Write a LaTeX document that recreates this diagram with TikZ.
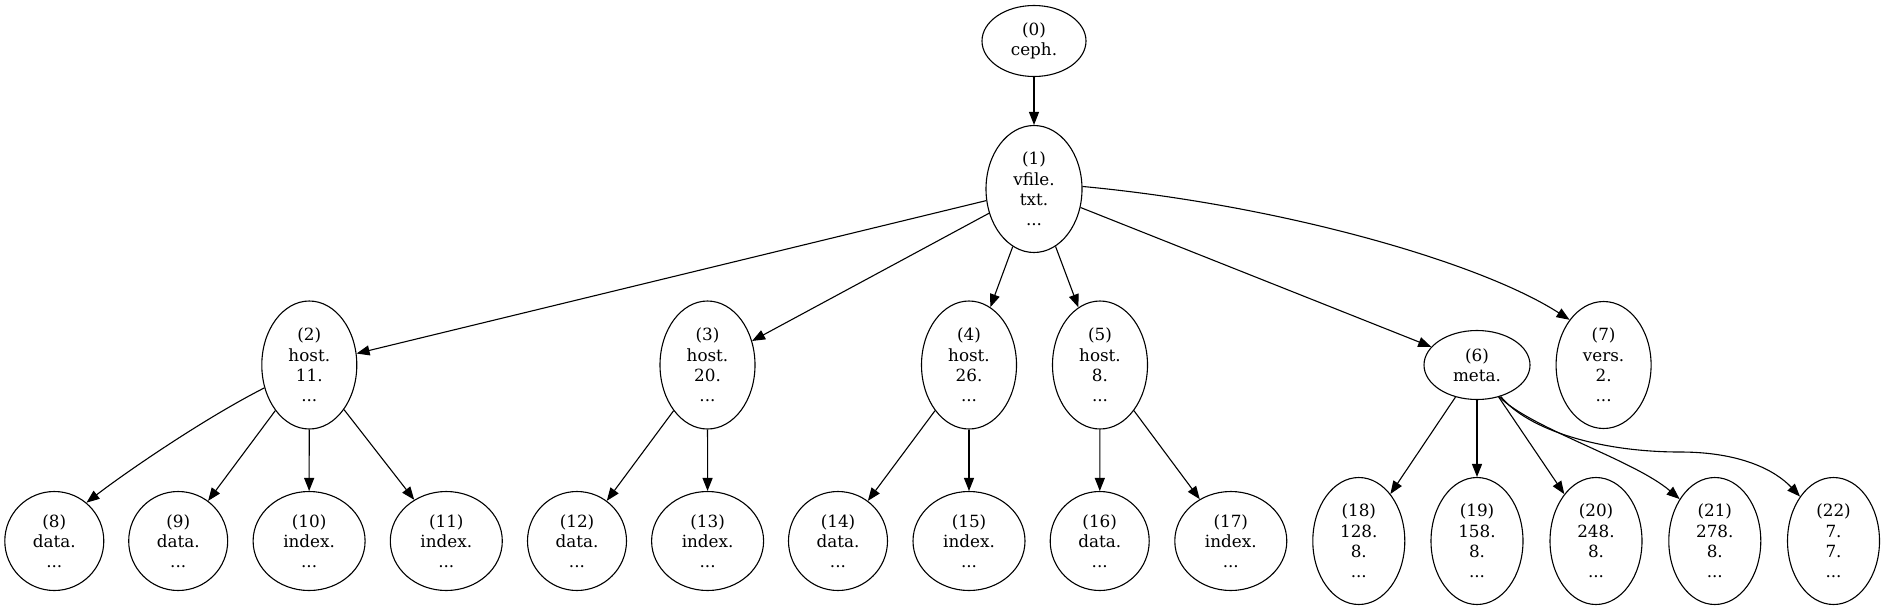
\documentclass[tikz,border=0pt]{standalone}
\usepackage{fontspec}
\setmainfont{DejaVu Serif}
\usetikzlibrary{arrows.meta,shapes.geometric}
\begin{document}
\begin{tikzpicture}[x=1pt,y=-1pt,
  nd/.style={draw,ellipse,line width=1.1pt,inner sep=0pt,align=center,
    font=\fontsize{16.8}{20.2}\selectfont},
  topnd/.style={nd,minimum width=104pt,minimum height=71pt},
  filend/.style={nd,minimum width=96pt,minimum height=127pt},
  hostnd/.style={nd,minimum width=95pt,minimum height=128pt},
  metand/.style={nd,minimum width=106pt,minimum height=69pt},
  versnd/.style={nd,minimum width=95pt,minimum height=127pt},
  datand/.style={nd,minimum width=99pt,minimum height=99pt},
  indexnd/.style={nd,minimum width=112pt,minimum height=99pt},
  numnd/.style={nd,minimum width=92pt,minimum height=127pt},
  ed/.style={line width=1.1pt,-{Triangle[length=13pt,width=10pt]}}
]
\fill[white] (0,0) rectangle (1885,611);
\useasboundingbox (0,0) rectangle (1885,611);

\node[topnd] (n0) at (1034,41) {(0)\\ceph.};
\node[filend] (n1) at (1034,189) {(1)\\vfile.\\txt.\\...};
\node[hostnd] (n2) at (309.3,365) {(2)\\host.\\11.\\...};
\node[hostnd] (n3) at (707.5,365) {(3)\\host.\\20.\\...};
\node[hostnd] (n4) at (969,365) {(4)\\host.\\26.\\...};
\node[hostnd] (n5) at (1100,365) {(5)\\host.\\8.\\...};
\node[metand] (n6) at (1477,365) {(6)\\meta.};
\node[versnd] (n7) at (1603.6,365) {(7)\\vers.\\2.\\...};

\node[datand] (n8) at (54.3,541) {(8)\\data.\\...};
\node[datand] (n9) at (178.2,541) {(9)\\data.\\...};
\node[indexnd] (n10) at (309.1,541) {(10)\\index.\\...};
\node[indexnd] (n11) at (446.3,541) {(11)\\index.\\...};
\node[datand] (n12) at (577,541) {(12)\\data.\\...};
\node[indexnd] (n13) at (707.6,541) {(13)\\index.\\...};
\node[datand] (n14) at (838,541) {(14)\\data.\\...};
\node[indexnd] (n15) at (969,541) {(15)\\index.\\...};
\node[datand] (n16) at (1099.7,541) {(16)\\data.\\...};
\node[indexnd] (n17) at (1230.8,541) {(17)\\index.\\...};
\node[numnd] (n18) at (1358.8,541) {(18)\\128.\\8.\\...};
\node[numnd] (n19) at (1477,541) {(19)\\158.\\8.\\...};
\node[numnd] (n20) at (1596,541) {(20)\\248.\\8.\\...};
\node[numnd] (n21) at (1714.8,541) {(21)\\278.\\8.\\...};
\node[numnd] (n22) at (1833.5,541) {(22)\\7.\\7.\\...};

\draw[ed] (n0) -- (n1);
\draw[ed] (n1) -- (n2);
\draw[ed] (n1) -- (n3);
\draw[ed] (n1) -- (n4);
\draw[ed] (n1) -- (n5);
\draw[ed] (n1) -- (n6);
\draw[ed] (n1.3) .. controls (1280,205) and (1480,262) .. (n7.127);

\draw[ed] (n2.207.5) .. controls (203,419) and (122.5,474.7) .. (n8.50);
\draw[ed] (n2) -- (n9);
\draw[ed] (n2) -- (n10);
\draw[ed] (n2) -- (n11);
\draw[ed] (n3) -- (n12);
\draw[ed] (n3) -- (n13);
\draw[ed] (n4) -- (n14);
\draw[ed] (n4) -- (n15);
\draw[ed] (n5) -- (n16);
\draw[ed] (n5) -- (n17);

\draw[ed] (n6) -- (n18);
\draw[ed] (n6) -- (n19);
\draw[ed] (n6) -- (n20);
\draw[ed] (n6.-55) .. controls (1530,428) and (1634,460) .. (n21.130);
\draw[ed] (n6.-53) .. controls (1528,430) and (1600,452) .. (1680,452)
  .. controls (1740,452) and (1775,470) .. (n22.127);
\end{tikzpicture}
\end{document}
